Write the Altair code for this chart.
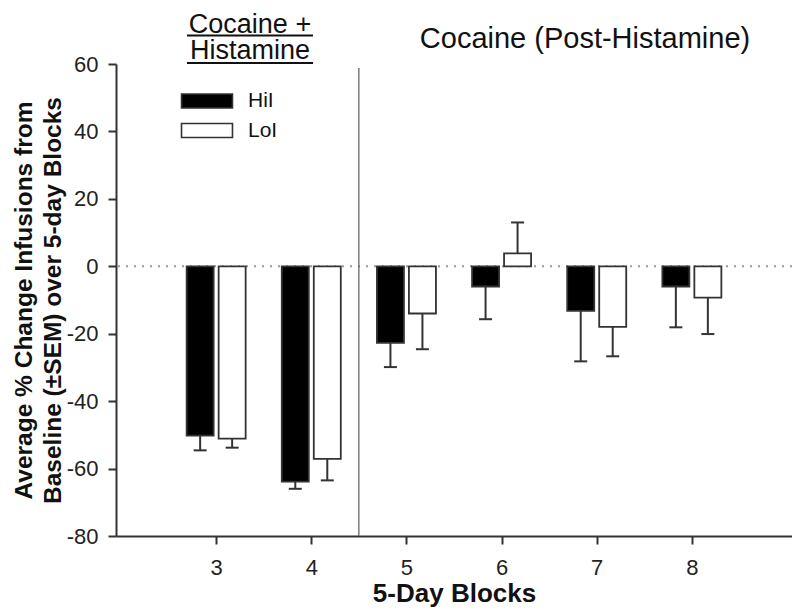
import altair as alt
import pandas as pd

# ---- data ----
blocks = [3, 4, 5, 6, 7, 8]
hii_mean = [-50.2, -63.9, -22.7, -6.0, -13.2, -6.0]
hii_sem = [4.4, 2.1, 7.2, 9.7, 15.0, 12.1]
loi_mean = [-51.1, -57.1, -14.0, 3.8, -18.0, -9.3]
loi_sem = [2.7, 6.4, 10.6, 9.2, 8.7, 10.8]
groups = ["HiI", "LoI"]
x_ticks = [3, 4, 5, 6, 7, 8]
y_ticks = [-80, -60, -40, -20, 0, 20, 40, 60]
left_title = ["Cocaine +", "Histamine"]
right_title = ["Cocaine (Post-Histamine)"]
y_title = ["Average % Change Infusions from", "Baseline (±SEM) over 5-day Blocks"]
x_title = "5-Day Blocks"
divider_at = [4.5]

rows = []
for b, m, s in zip(blocks, hii_mean, hii_sem):
    rows.append({"block": b, "group": groups[0], "value": m, "sem": s})
for b, m, s in zip(blocks, loi_mean, loi_sem):
    rows.append({"block": b, "group": groups[1], "value": m, "sem": s})
df = pd.DataFrame(rows)

FONT = "Liberation Sans"
W, H = 676, 472
DARK = "#333333"

xscale = alt.Scale(domain=[2, 9], nice=False, zero=False)
yscale = alt.Scale(domain=[-80, 60], nice=False, zero=False)

xaxis = alt.Axis(values=x_ticks, title=x_title, grid=False, labelFontSize=22,
                 labelExpr="'' + datum.value",
                 labelPadding=13, titleFontSize=26, titleFontWeight="bold",
                 titleBaseline="alphabetic", titleY=65, labelColor="#222222",
                 titleColor="#111111")
yaxis = alt.Axis(values=y_ticks, title=y_title, grid=False, labelFontSize=22,
                 labelExpr="'' + datum.value",
                 labelPadding=10, titleFontSize=24.5, titleFontWeight="bold",
                 titleAngle=-90, titleBaseline="alphabetic", titleX=-85, titleY=236,
                 titleAlign="center", titleLineHeight=29, labelColor="#222222",
                 titleColor="#111111")

base = alt.Chart(df)

zero_line = alt.Chart(pd.DataFrame({"v": [0]})).mark_rule(
    color="#999999", strokeDash=[2, 6], strokeWidth=2
).encode(y=alt.Y("v:Q", scale=yscale, axis=yaxis))

divider = alt.Chart(pd.DataFrame({"x": divider_at})).mark_rule(
    color="#666666", strokeWidth=1.3
).encode(
    x=alt.X("x:Q", scale=xscale, axis=xaxis),
    y=alt.value(4),
    y2=alt.value(H),
)

color = alt.Color(
    "group:N",
    scale=alt.Scale(domain=groups, range=["black", "white"]),
    legend=alt.Legend(
        title=None, orient="none", legendX=80.5, legendY=26.5,
        symbolType="M-3.64,-1H3.64V1H-3.64Z", symbolSize=196,
        symbolStrokeColor=DARK, symbolStrokeWidth=1.6, symbolOpacity=1,
        labelFontSize=21, labelOffset=30.5, rowPadding=7.5, padding=0,
        labelColor="#111111", labelFont=FONT,
    ),
)

layers = [zero_line, divider]
for g, off in zip(groups, [-16, 16]):
    sub = base.transform_filter(alt.datum.group == g)
    bars = sub.mark_bar(width=27, xOffset=off, stroke=DARK, strokeWidth=1.8, opacity=1).encode(
        x=alt.X("block:Q", scale=xscale, axis=xaxis),
        y=alt.Y("value:Q", scale=yscale, axis=yaxis),
        y2=alt.datum(0),
        color=color,
    )
    err = sub.transform_calculate(
        end="datum.value < 0 ? datum.value - datum.sem : datum.value + datum.sem"
    )
    stem = err.mark_rule(color=DARK, strokeWidth=2, xOffset=off).encode(
        x=alt.X("block:Q", scale=xscale),
        y=alt.Y("value:Q", scale=yscale),
        y2="end:Q",
    )
    cap = err.mark_rule(color=DARK, strokeWidth=2, xOffset=off - 6.5, x2Offset=off + 6.5).encode(
        x=alt.X("block:Q", scale=xscale),
        x2="block:Q",
        y=alt.Y("end:Q", scale=yscale),
    )
    layers += [stem, cap, bars]

one = pd.DataFrame({"k": [0]})
t12 = alt.Chart(one).mark_text(fontSize=27, align="center", baseline="alphabetic",
                               lineHeight=26.5, color="#111111").encode(
    x=alt.value(134), y=alt.value(-31.5), text=alt.value(left_title))
t3 = alt.Chart(one).mark_text(fontSize=29, align="center", baseline="alphabetic",
                              color="#111111").encode(
    x=alt.value(469), y=alt.value(-16), text=alt.value(right_title[0]))
u1 = alt.Chart(one).mark_rule(color="#111111", strokeWidth=2).encode(
    x=alt.value(71), x2=alt.value(197), y=alt.value(-28.5))
u2 = alt.Chart(one).mark_rule(color="#111111", strokeWidth=2).encode(
    x=alt.value(71), x2=alt.value(197), y=alt.value(-1))
layers += [t12, t3, u1, u2]

chart = alt.layer(*layers).properties(
    width=W, height=H,
    autosize=alt.AutoSizeParams(type="none"),
    padding={"left": 108, "top": 56, "right": 0, "bottom": 72},
).configure(font=FONT).configure_view(strokeWidth=0).configure_axis(
    domainColor=DARK, domainWidth=2, tickColor=DARK, tickWidth=2, tickSize=8,
    labelFont=FONT, titleFont=FONT,
)

chart.save("out.html", embed_options={"renderer": "svg", "actions": False})
